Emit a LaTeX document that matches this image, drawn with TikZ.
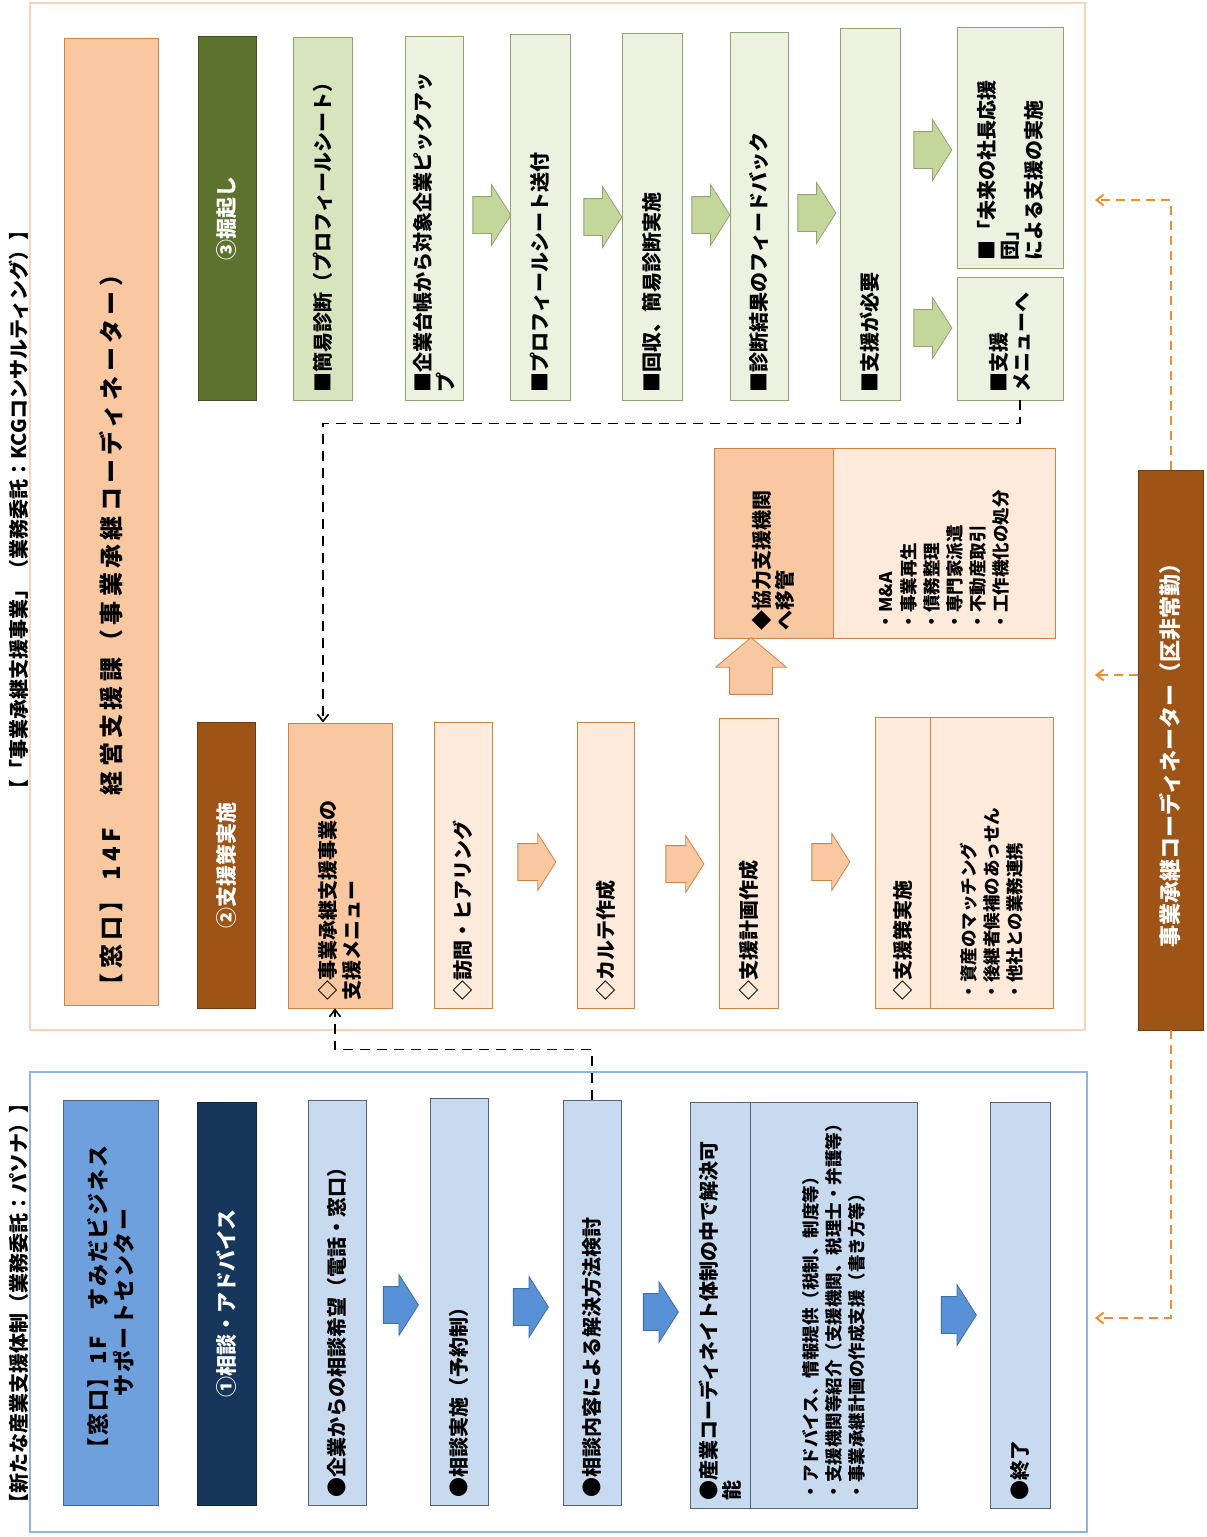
\documentclass[tikz,border=0pt]{standalone}
\usepackage{fontspec}
\setmainfont{Noto Sans CJK JP}
\usepackage{tikz}
\usetikzlibrary{calc}
\usetikzlibrary{arrows.meta}
\usetikzlibrary{shapes.arrows}
\definecolor{peach}{RGB}{250, 200, 160}
\definecolor{palepeach}{RGB}{253, 234, 218}
\definecolor{peachline}{RGB}{205, 130, 70}
\definecolor{brownbar}{RGB}{157, 84, 22}
\definecolor{olive}{RGB}{94, 114, 48}
\definecolor{midgreen}{RGB}{215, 228, 189}
\definecolor{palegreen}{RGB}{236, 241, 224}
\definecolor{greenline}{RGB}{145, 162, 115}
\definecolor{arrowgreen}{RGB}{196, 215, 155}
\definecolor{navy}{RGB}{22, 54, 92}
\definecolor{midblue}{RGB}{110, 160, 222}
\definecolor{paleblue}{RGB}{200, 218, 240}
\definecolor{blueline}{RGB}{85, 98, 120}
\definecolor{arrowblue}{RGB}{88, 145, 215}
\definecolor{frameblue}{RGB}{142, 180, 227}
\definecolor{frameorange}{RGB}{250, 212, 182}
\definecolor{dashorange}{RGB}{240, 140, 50}

\begin{document}
\begin{tikzpicture}[
  x=1pt, y=-1pt,
  font=\fontsize{20}{23.5}\selectfont\bfseries,
  vb/.style={draw, rotate=90, inner sep=0pt, align=left, line width=0.9pt},
  sz/.style 2 args={minimum width=#1pt, minimum height=#2pt, text width=#1pt-16pt},
  pch/.style={vb, fill=peach, draw=peachline},
  lpch/.style={vb, fill=palepeach, draw=peachline},
  grn/.style={vb, fill=midgreen, draw=greenline},
  lgrn/.style={vb, fill=palegreen, draw=greenline},
  blu/.style={vb, fill=paleblue, draw=blueline},
  tag/.style={vb, text=white, align=center, font=\fontsize{21}{24}\selectfont\bfseries},
  lst/.style={font=\fontsize{17.5}{23}\selectfont\bfseries},
  ttl/.style={rotate=90, inner sep=0pt},
  blk/.style={single arrow, inner xsep=0pt, inner ysep=18pt, line width=0.8pt, single arrow tip angle=115},
  garr/.style={blk, draw=greenline, fill=arrowgreen, minimum height=38pt, minimum width=60pt, single arrow head extend=12pt},
  oarr/.style={blk, draw=peachline, fill=peach, minimum height=38pt, minimum width=56pt, single arrow head extend=10pt},
  barr/.style={blk, draw=arrowblue!75!black, fill=arrowblue, minimum height=35pt, minimum width=60pt, single arrow head extend=12pt},
  dar/.style={-{Straight Barb[length=7pt, width=11pt]}, line width=1.6pt, dash pattern=on 10pt off 7pt},
  odar/.style={dar, draw=dashorange, line width=2pt, dash pattern=on 9pt off 6pt}
]
\useasboundingbox (0,0) rectangle (1207,1537);
\draw[frameorange, line width=1.5pt] (30,3) rectangle (1085,1030);
\draw[frameblue, line width=1.2pt] (30,1072) rectangle (1087,1532);
\node[ttl] (ttop) at (19,510) {【「事業承継支援事業」（業務委託：KCGコンサルティング）】};
\node[ttl] (tbot) at (19,1303) {【新たな産業支援体制（業務委託：パソナ）】};

\node[pch, sz={967}{94}, font=\fontsize{24}{28}\selectfont\bfseries\addfontfeature{LetterSpace=18}] (head14) at (111,521.5)
  {【窓口】 14F　経営支援課（事業承継コーディネーター）};
\node[tag, sz={364}{58}, fill=olive, draw=olive!70!black] (hori) at (227,218) {③掘起し};
\node[tag, sz={286}{58}, fill=brownbar, draw=brownbar!70!black] (shien2) at (226,865) {②支援策実施};

\node[grn, sz={363}{59}] (shindan) at (322.5,218.5) {■簡易診断（プロフィールシート）};
\node[lgrn, sz={364}{58}] (daicho) at (434,218) {■企業台帳から対象企業ピックアッ\\プ};
\node[lgrn, sz={366}{60}] (sofu) at (540,217) {■プロフィールシート送付};
\node[lgrn, sz={367}{60}] (kaishu) at (652,216.5) {■回収、簡易診断実施};
\node[lgrn, sz={368}{58}] (fb) at (759,216) {■診断結果のフィードバック};
\node[lgrn, sz={372}{60}] (hitsuyo) at (870,214) {■支援が必要};
\node[lgrn, sz={241}{106}] (mirai) at (1010,147.5) {■「未来の社長応援\\団」\\による支援の実施};
\node[lgrn, sz={123}{106}] (menu) at (1010,338.5) {■支援\\メニューへ};
\node[garr] (ga1) at (486,215) {};
\node[garr] (ga2) at (597,217) {};
\node[garr] (ga3) at (705,215) {};
\node[garr] (ga4) at (811,213) {};
\node[garr] (ga5) at (927,150) {};
\node[garr] (ga6) at (927,328) {};

\node[pch, sz={285}{104}] (menuS) at (340,865.5) {◇事業承継支援事業の\\支援メニュー};
\node[lpch, sz={286}{58}] (homon) at (463,865) {◇訪問・ヒアリング};
\node[lpch, sz={286}{57}] (karte) at (605.5,865) {◇カルテ作成};
\node[lpch, sz={290}{59}] (keikaku) at (748.5,863) {◇支援計画作成};
\node[pch, sz={190}{119}] (kyoryoku) at (773.5,543) {◆協力支援機関\\へ移管};
\node[lpch, lst, sz={190}{222}] (kyolist) at (944,543)
  {・M\&A\\・事業再生\\・債務整理\\・専門家派遣\\・不動産取引\\・工作機化の処分};
\node[lpch, sz={291}{55}] (jisshiH) at (902.5,862.5) {◇支援策実施};
\node[lpch, lst, sz={291}{123}] (jisshiL) at (991.5,862.5)
  {・資産のマッチング\\・後継者候補のあっせん\\・他社との業務連携};
\node[oarr] (oa1) at (531,862) {};
\node[oarr] (oa2) at (679,864) {};
\node[oarr] (oa3) at (825,862) {};
\node[oarr, shape border rotate=90, inner xsep=21pt, inner ysep=0pt, minimum height=57pt, minimum width=70pt, single arrow head extend=14pt, single arrow tip angle=100] (oaup) at (751,675) {};

\node[tag, sz={560}{65}, fill=brownbar, draw=brownbar!70!black, font=\fontsize{22}{26}\selectfont\bfseries] (coord) at (1170.5,750)
  {事業承継コーディネーター（区非常勤）};

\node[vb, sz={405}{95}, fill=midblue, draw=blueline, align=center, font=\fontsize{22}{26}\selectfont\bfseries\addfontfeature{LetterSpace=8}] (head1F) at (110.5,1302.5)
  {【窓口】1F　すみだビジネス\\サポートセンター};
\node[tag, sz={403}{59}, fill=navy, draw=navy!70!black] (sodan1) at (226.5,1303.5) {①相談・アドバイス};
\node[blu, sz={405}{58}] (kibo) at (337,1302.5) {●企業からの相談希望（電話・窓口）};
\node[blu, sz={407}{58}] (jisshi1) at (459,1301.5) {●相談実施（予約制）};
\node[blu, sz={405}{58}] (kento) at (592,1302.5) {●相談内容による解決方法検討};
\node[blu, sz={406}{60}] (sangyo) at (720,1305) {●産業コーディネイト体制の中で解決可\\能};
\node[blu, lst, sz={406}{167}] (sangyoL) at (833.5,1305)
  {・アドバイス、情報提供（税制、制度等）\\・支援機関等紹介（支援機関、税理士・弁護等）\\・事業承継計画の作成支援（書き方等）};
\node[blu, sz={406}{60}] (shuryo) at (1020,1305) {●終了};
\node[barr] (ba1) at (395,1305) {};
\node[barr] (ba2) at (525,1307) {};
\node[barr] (ba3) at (655,1312) {};
\node[barr] (ba4) at (953,1315) {};

\draw[dar] ([xshift=10pt]menu.west) -- ++(0,23) -| ([xshift=-17pt]menuS.east);
\draw[dar] (kento.east) -- ++(0,-50) -| ([xshift=-5pt]menuS.west);

\coordinate (oT) at (1095,200);
\coordinate (oM) at (1095,675);
\coordinate (oB) at (1095,1318);
\draw[odar] (coord.east) |- (oT);
\draw[odar] (coord.north |- oM) -- (oM);
\draw[odar] (coord.west) |- (oB);
\end{tikzpicture}
\end{document}
